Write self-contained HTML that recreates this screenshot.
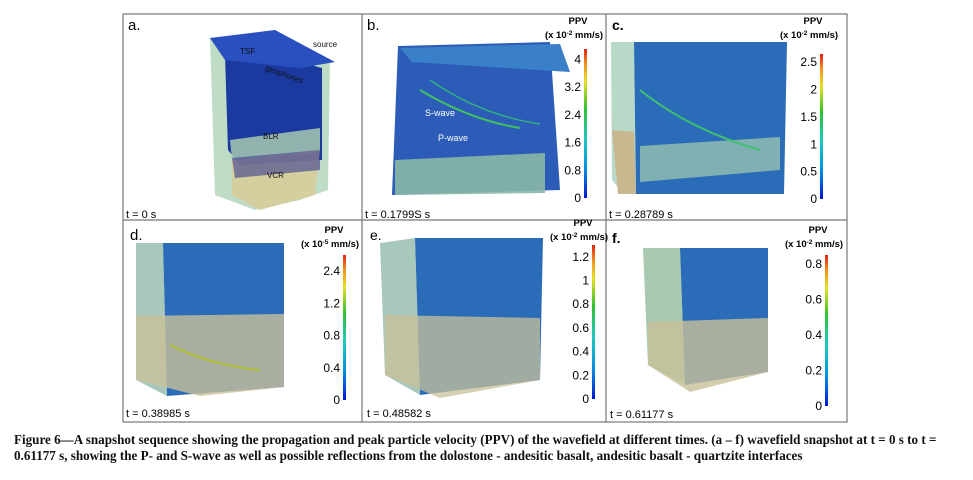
<!DOCTYPE html>
<html><head><meta charset="utf-8"><style>
body{margin:0;background:#fff;width:973px;height:480px;overflow:hidden;font-family:"Liberation Sans",sans-serif}
#cap{position:absolute;left:14px;top:432px;font-family:"Liberation Serif",serif;font-weight:bold;font-size:13.5px;line-height:16px;color:#111;transform-origin:0 0;transform:scaleX(0.97);white-space:nowrap}
</style></head><body>
<svg id="fig" width="973" height="430" style="position:absolute;left:0;top:0" font-family="Liberation Sans, sans-serif">
<defs>
<linearGradient id="jet" x1="0" y1="1" x2="0" y2="0">
<stop offset="0" stop-color="#0018d0"/><stop offset="0.2" stop-color="#0090e0"/><stop offset="0.4" stop-color="#20c8c0"/><stop offset="0.6" stop-color="#30c030"/><stop offset="0.78" stop-color="#e8e020"/><stop offset="0.9" stop-color="#f09020"/><stop offset="1" stop-color="#e02010"/></linearGradient>
</defs>
<g stroke="#777" stroke-width="1.2" fill="none">
<rect x="123" y="14" width="724" height="408"/>
<line x1="123" y1="220" x2="847" y2="220"/>
<line x1="362" y1="14" x2="362" y2="422"/><line x1="606" y1="14" x2="606" y2="422"/>
</g>
<!-- panel a -->
<g>
<polygon points="210,38 275,30 330,60 328,190 300,200 255,210 215,195" fill="#b8d8c0" opacity="0.9"/>
<polygon points="225,55 300,62 322,68 322,160 240,165 228,150" fill="#1a3aa0"/>
<polygon points="210,38 275,30 335,62 300,68 225,60" fill="#2a50c0"/>
<polygon points="230,140 320,128 320,152 232,160" fill="#a8c8b0" opacity="0.85"/>
<polygon points="232,160 320,150 315,195 260,210 232,195" fill="#d8cc98" opacity="0.85"/>
<polygon points="232,158 320,150 320,170 235,178" fill="#3a3a90" opacity="0.6"/>
</g>
<text x="128" y="30" font-size="15">a.</text>
<g font-size="8" fill="#111">
<text x="240" y="54">TSF</text><text x="313" y="47">source</text><text x="265" y="70" transform="rotate(20 265 70)">geophones</text>
<text x="263" y="139">BLR</text><text x="267" y="178">VCR</text></g>
<text x="126" y="218" font-size="11">t = 0 s</text>
<!-- panel b -->
<g>
<polygon points="398,46 550,42 560,190 392,195" fill="#2c5cb8"/>
<polygon points="400,48 560,44 570,72 412,62" fill="#3a80c8"/>
<polygon points="395,160 545,153 545,193 395,195" fill="#8ab8a8" opacity="0.9"/>
<path d="M420,90 Q470,120 520,128" stroke="#40c060" stroke-width="2" fill="none"/>
<path d="M430,80 Q480,115 540,124" stroke="#30b080" stroke-width="1.5" fill="none"/>
</g>
<text x="367" y="30" font-size="15">b.</text>
<text x="425" y="116" font-size="9" fill="#fff">S-wave</text>
<text x="438" y="141" font-size="9" fill="#fff">P-wave</text>
<text x="365" y="218" font-size="11">t = 0.1799S s</text>
<!-- panel c -->
<g>
<polygon points="611,42 634,42 636,194 623,194 612,180" fill="#b8d8c8"/>
<polygon points="634,42 787,42 784,194 636,194" fill="#2a6cb8"/>
<polygon points="640,146 780,137 780,170 640,182" fill="#8ab8b0" opacity="0.9"/>
<polygon points="612,130 634,132 636,194 618,194" fill="#c8b890"/>
<path d="M640,90 Q690,130 760,150" stroke="#40c070" stroke-width="2" fill="none"/>
</g>
<text x="612" y="30" font-size="14" font-weight="bold">c.</text>
<text x="609" y="218" font-size="11">t = 0.28789 s</text>
<!-- panel d -->
<g>
<polygon points="136,243 163,243 167,396 136,380" fill="#a8c8bc"/>
<polygon points="163,243 284,243 284,387 167,396" fill="#2a6cb8"/>
<polygon points="136,316 284,314 284,387 200,396 136,380" fill="#c8c09a" opacity="0.8"/>
<path d="M170,345 Q210,365 260,370" stroke="#b0c030" stroke-width="2" fill="none"/>
</g>
<text x="130" y="240" font-size="15">d.</text>
<text x="126" y="417" font-size="11">t = 0.38985 s</text>
<!-- panel e -->
<g>
<polygon points="380,243 415,238 420,395 385,375" fill="#a8c8bc"/>
<polygon points="415,238 543,238 540,380 420,395" fill="#2a6cb8"/>
<polygon points="385,315 540,318 540,380 440,398 385,375" fill="#c8c09a" opacity="0.75"/>
</g>
<text x="370" y="240" font-size="14">e.</text>
<text x="367" y="417" font-size="11">t = 0.48582 s</text>
<!-- panel f -->
<g>
<polygon points="643,248 680,248 685,385 648,365" fill="#a8c8b0"/>
<polygon points="680,248 768,248 768,372 685,385" fill="#2a6cb8"/>
<polygon points="648,322 768,318 768,372 690,392 648,365" fill="#c8c09a" opacity="0.8"/>
</g>
<text x="612" y="243" font-size="14" font-weight="bold">f.</text>
<text x="610" y="418" font-size="11">t = 0.61177 s</text>
<g id="bars"></g>
</svg>
<div id="cap">Figure 6—A snapshot sequence showing the propagation and peak particle velocity (PPV) of the wavefield at different times. (a – f) wavefield snapshot at t = 0 s to t =<br>0.61177 s, showing the P- and S-wave as well as possible reflections from the dolostone - andesitic basalt, andesitic basalt - quartzite interfaces</div>
<script>
const panelIds = ['b','c','d','e','f'];
const ticksB = [0,0.8,1.6,2.4,3.2,4];
const ticksC = [0,0.5,1,1.5,2,2.5];
const ticksD = [0,0.4,0.8,1.2,2.4];
const ticksE = [0,0.2,0.4,0.6,0.8,1,1.2];
const ticksF = [0,0.2,0.4,0.6,0.8];
const maxVals = [4.3,2.65,4.5,1.3,0.85];
const units = ['-2','-2','-5','-2','-2'];
const ticksAll = [ticksB,ticksC,ticksD,ticksE,ticksF];
const geo = [{x:584,top:49,bot:198,px:578,py:24},{x:820,top:54,bot:199,px:813,py:24},{x:343,top:255,bot:400,px:334,py:233},{x:592,top:245,bot:399,px:583,py:226},{x:825,top:255,bot:406,px:818,py:233}];
const NS='http://www.w3.org/2000/svg';
const g=document.getElementById('bars');
function mk(t,a,txt){const e=document.createElementNS(NS,t);for(const k in a)e.setAttribute(k,a[k]);if(txt!==undefined)e.textContent=txt;g.appendChild(e);return e;}
panelIds.forEach((id,i)=>{
 const G=geo[i];
 // panel d colorbar ticks are unevenly labelled: placed ordinally
 const y=(v,j)=> id==='d' ? G.bot-(j/maxVals[i])*(G.bot-G.top) : G.bot-(v/maxVals[i])*(G.bot-G.top);
 const r=mk('rect',{x:G.x,y:G.top,width:3,height:G.bot-G.top,fill:'url(#jet)'});
 
 
 const t1=mk('text',{x:G.px,y:G.py,'font-size':9.5,'font-weight':'bold','text-anchor':'middle'},'PPV');
 
 
 const t2=mk('text',{x:G.px-4,y:G.py+14,'font-size':9.5,'font-weight':'bold','text-anchor':'middle'});
 t2.innerHTML='(x 10<tspan dy="-3" font-size="6.5">'+units[i]+'</tspan><tspan dy="3"> mm/s)</tspan>';
 
 
 ticksAll[i].forEach((v,j)=>{
  const tx=mk('text',{x:G.x-3,y:y(v,j)+4,'font-size':12,'text-anchor':'end'},String(v));
  
  
 });
});
</script>
</body></html>
